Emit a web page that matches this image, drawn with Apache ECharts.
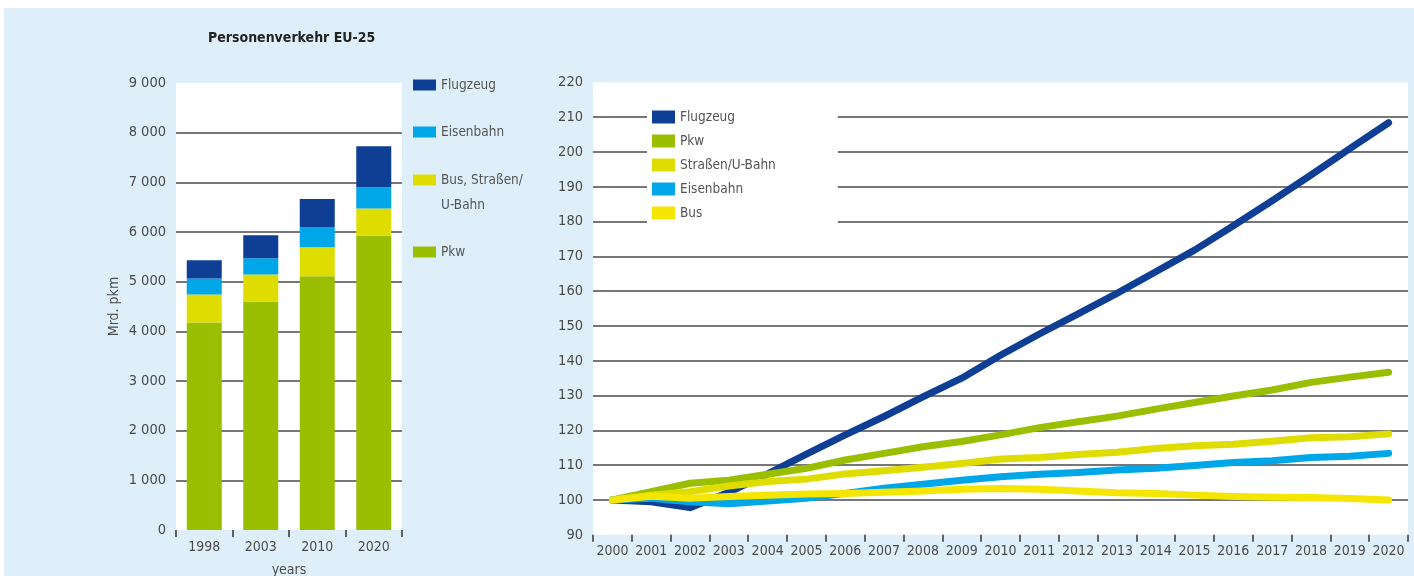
<!DOCTYPE html>
<html>
<head>
<meta charset="utf-8">
<title>Personenverkehr EU-25</title>
<script src="https://cdn.jsdelivr.net/npm/echarts@6/dist/echarts.min.js"></script>
<style>
  html, body { margin: 0; padding: 0; background: #fff; }
  #bg { position: absolute; left: 4px; top: 8px; width: 1410px; height: 568px; background: #dfeffa; }
  #main { position: absolute; left: 0; top: 0; width: 1414px; height: 576px; }
</style>
</head>
<body>
<div id="bg"></div>
<div id="main"></div>
<script>
// linke Grafik: Mrd. pkm
const barYears = ['1998', '2003', '2010', '2020']
const barPkw = [4180, 4600, 5110, 5930]
const barBusStrassen = [560, 545, 585, 545]
const barEisenbahn = [325, 325, 405, 425]
const barFlugzeug = [365, 465, 565, 825]

// rechte Grafik: Index 2000 = 100
const lineYears = ['2000', '2001', '2002', '2003', '2004', '2005', '2006', '2007', '2008', '2009', '2010',
  '2011', '2012', '2013', '2014', '2015', '2016', '2017', '2018', '2019', '2020']
const idxFlugzeug = [100, 99.5, 97.8, 102.2, 107.5, 113.2, 118.7, 124, 129.6, 135, 141.6,
  147.7, 153.5, 159.4, 165.6, 171.8, 178.8, 186, 193.4, 201, 208.4]
const idxPkw = [100, 102.4, 104.8, 105.7, 107.4, 109.1, 111.5, 113.4, 115.3, 116.8, 118.7,
  120.8, 122.5, 124.1, 126.1, 128, 129.9, 131.6, 133.8, 135.3, 136.7]
const idxStrassen = [100, 101.4, 102.4, 104, 105.3, 106, 107.5, 108.4, 109.4, 110.5, 111.8,
  112.2, 113.1, 113.7, 114.8, 115.6, 116, 116.9, 117.9, 118.2, 119]
const idxEisenbahn = [100, 100.5, 99.5, 98.9, 99.7, 100.5, 101.9, 103.4, 104.5, 105.7, 106.7,
  107.4, 107.9, 108.6, 109.1, 109.9, 110.8, 111.3, 112.2, 112.6, 113.4]
const idxBus = [100, 101.1, 100.5, 101, 101.4, 101.7, 101.9, 102.2, 102.6, 103.1, 103.3,
  103.1, 102.6, 102.1, 101.9, 101.4, 101, 100.8, 100.7, 100.4, 100]

const FONT = '"DejaVu Sans Condensed", "Liberation Sans Narrow", sans-serif'
const TXT = '#4a4a4a'
const C = {
  flug: '#0e3f94',
  bahn: '#00a7e8',
  strasse: '#dfdd00',
  bus: '#f4e600',
  pkw: '#9abf00'
}
const BUS_LEFT = 'Bus, Straßen/\nU-Bahn'

// Gitterlinien: unterste und oberste ausblenden
function gridColors (n) {
  const arr = []
  for (let i = 0; i < n; i++) arr.push(i === 0 || i === n - 1 ? 'rgba(0,0,0,0)' : '#4a4a4a')
  return arr
}

function leftLegend (name, top, formatter) {
  return {
    orient: 'vertical',
    left: 413,
    top: top,
    padding: 0,
    itemWidth: 23,
    itemHeight: 11,
    itemGap: 5,
    selectedMode: false,
    icon: 'rect',
    formatter: formatter,
    textStyle: { fontFamily: FONT, fontSize: 13.5, color: '#555', lineHeight: 25 },
    data: [name]
  }
}

const lineSeries = (name, data, color, z) => ({
  name: name,
  type: 'line',
  xAxisIndex: 1,
  yAxisIndex: 1,
  data: data,
  z: z,
  symbol: 'none',
  color: color,
  lineStyle: { width: 7, color: color, cap: 'round', join: 'round' }
})

const myChart = echarts.init(document.getElementById('main'))
const option = {
  backgroundColor: 'transparent',
  animation: false,
  title: {
    text: 'Personenverkehr EU-25',
    left: 208,
    top: 31,
    padding: 0,
    textStyle: { fontFamily: FONT, fontSize: 14, fontWeight: 'bold', color: '#222' }
  },
  legend: [
    leftLegend('Flugzeug', 72.5),
    leftLegend('Eisenbahn', 119.5),
    // leere erste Zeile, damit "Bus, Straßen/" auf Höhe des Symbols steht
    leftLegend(BUS_LEFT, 142.5, name => '\n' + name),
    leftLegend('Pkw', 239.5),
    {
      orient: 'vertical',
      left: 647,
      top: 89,
      padding: [20, 62, 20, 5],
      backgroundColor: '#fff',
      itemWidth: 23,
      itemHeight: 13,
      itemGap: 8,
      selectedMode: false,
      icon: 'rect',
      textStyle: { fontFamily: FONT, fontSize: 13.5, color: '#555', lineHeight: 16 },
      data: ['Flugzeug', 'Pkw', 'Straßen/U-Bahn', 'Eisenbahn', 'Bus']
    }
  ],
  grid: [
    { left: 176, width: 226, top: 83, bottom: 46, outerBoundsMode: 'none', show: true, backgroundColor: '#fff', borderWidth: 0 },
    { left: 593, right: 6, top: 82.4, bottom: 41.2, outerBoundsMode: 'none', show: true, backgroundColor: '#fff', borderWidth: 0 }
  ],
  xAxis: [
    {
      type: 'category',
      gridIndex: 0,
      data: barYears,
      name: 'years',
      nameLocation: 'middle',
      nameGap: 33,
      nameTextStyle: { fontFamily: FONT, fontSize: 14, color: TXT },
      axisLine: { show: false },
      axisTick: { show: true, length: 7, lineStyle: { color: '#333', width: 1.5 } },
      axisLabel: { fontFamily: FONT, fontSize: 14, color: TXT, margin: 10 }
    },
    {
      type: 'category',
      gridIndex: 1,
      data: lineYears,
      axisLine: { show: false },
      axisTick: { show: true, length: 7, lineStyle: { color: '#333', width: 1.5 } },
      axisLabel: { fontFamily: FONT, fontSize: 14, color: TXT, margin: 10, interval: 0 }
    }
  ],
  yAxis: [
    {
      type: 'value',
      gridIndex: 0,
      min: 0,
      max: 9000,
      interval: 1000,
      name: 'Mrd. pkm',
      nameLocation: 'middle',
      nameGap: 55,
      nameRotate: 90,
      nameTextStyle: { fontFamily: FONT, fontSize: 14, color: TXT },
      axisLine: { show: false },
      axisTick: { show: false },
      axisLabel: {
        fontFamily: FONT,
        fontSize: 14.5,
        color: TXT,
        margin: 10,
        formatter: v => String(v).replace(/\B(?=(\d{3})+(?!\d))/g, ' ')
      },
      splitLine: { show: true, lineStyle: { color: gridColors(10), width: 1.5 } }
    },
    {
      type: 'value',
      gridIndex: 1,
      min: 90,
      max: 220,
      interval: 10,
      axisLine: { show: false },
      axisTick: { show: false },
      axisLabel: { fontFamily: FONT, fontSize: 14.5, color: TXT, margin: 10 },
      splitLine: { show: true, lineStyle: { color: gridColors(14), width: 1.5 } }
    }
  ],
  series: [
    { name: 'Pkw', type: 'bar', stack: 'pkm', barWidth: 35, data: barPkw, color: C.pkw },
    { name: BUS_LEFT, type: 'bar', stack: 'pkm', barWidth: 35, data: barBusStrassen, color: C.strasse },
    { name: 'Eisenbahn', type: 'bar', stack: 'pkm', barWidth: 35, data: barEisenbahn, color: C.bahn },
    { name: 'Flugzeug', type: 'bar', stack: 'pkm', barWidth: 35, data: barFlugzeug, color: C.flug },
    lineSeries('Flugzeug', idxFlugzeug, C.flug, 2),
    lineSeries('Pkw', idxPkw, C.pkw, 3),
    lineSeries('Straßen/U-Bahn', idxStrassen, C.strasse, 4),
    lineSeries('Eisenbahn', idxEisenbahn, C.bahn, 5),
    lineSeries('Bus', idxBus, C.bus, 6)
  ]
}
myChart.setOption(option)
</script>
</body>
</html>
